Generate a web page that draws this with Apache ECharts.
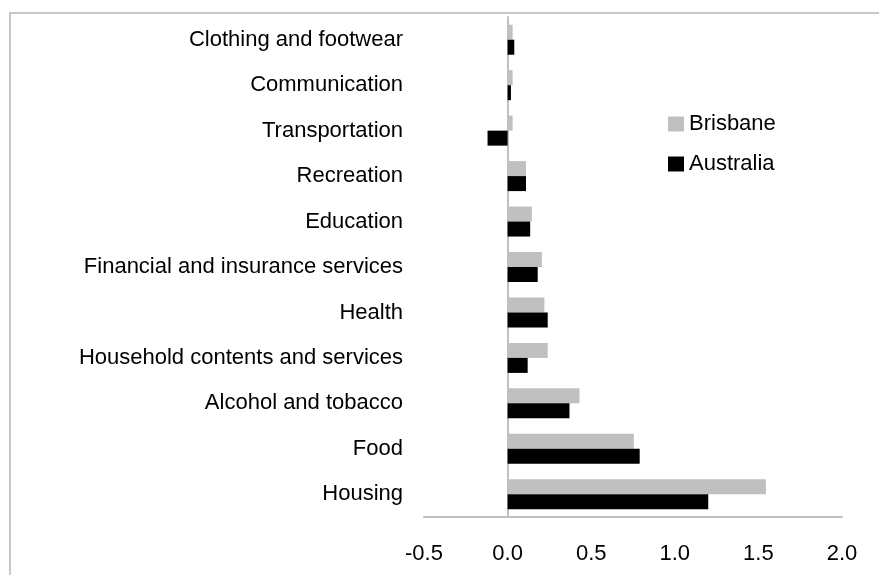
<!DOCTYPE html>
<html>
<head>
<meta charset="utf-8">
<script src="https://cdn.jsdelivr.net/npm/echarts@6/dist/echarts.min.js"></script>
<style>
  html, body { margin: 0; padding: 0; background: #fff; }
  #main { width: 879px; height: 575px; }
</style>
</head>
<body>
<div id="main"></div>
<script>
var categories = ['Clothing and footwear', 'Communication', 'Transportation', 'Recreation', 'Education',
    'Financial and insurance services', 'Health', 'Household contents and services',
    'Alcohol and tobacco', 'Food', 'Housing'];
var brisbane = [0.03, 0.03, 0.03, 0.11, 0.145, 0.205, 0.22, 0.24, 0.43, 0.755, 1.545];
var australia = [0.04, 0.02, -0.12, 0.11, 0.135, 0.18, 0.24, 0.12, 0.37, 0.79, 1.2];
var xTicks = [-0.5, 0.0, 0.5, 1.0, 1.5, 2.0];

var myChart = echarts.init(document.getElementById('main'));
var font = 'Liberation Sans, Arial, sans-serif';

var option = {
    animation: false,
    textStyle: { fontFamily: font },
    graphic: [{
        // outer chart border (cropped on the right and bottom)
        type: 'rect',
        shape: { x: 10, y: 13, width: 900, height: 600 },
        style: { fill: 'none', stroke: '#c8c8c8', lineWidth: 2 }
    }],
    legend: {
        orient: 'vertical',
        left: 663,
        top: 108,
        icon: 'rect',
        itemWidth: 16,
        itemHeight: 15,
        itemGap: 18,
        data: ['Brisbane', 'Australia'],
        textStyle: { fontSize: 22, color: '#000', fontFamily: font, lineHeight: 22 }
    },
    grid: {
        left: 424,
        right: 37,
        top: 17,
        bottom: 58,
        containLabel: false
    },
    xAxis: {
        type: 'value',
        min: xTicks[0],
        max: xTicks[xTicks.length - 1],
        interval: 0.5,
        axisLine: { show: true, lineStyle: { color: '#c0c0c0', width: 2 } },
        axisTick: { show: false },
        splitLine: { show: false },
        axisLabel: {
            fontSize: 22,
            color: '#000',
            margin: 26,
            formatter: function (v) { return v.toFixed(1); }
        }
    },
    yAxis: {
        type: 'category',
        inverse: true,
        data: categories,
        axisLine: { show: true, onZero: true, lineStyle: { color: '#c0c0c0', width: 2 } },
        axisTick: { show: false },
        axisLabel: {
            fontSize: 22,
            color: '#000',
            margin: 21
        }
    },
    series: [
        {
            name: 'Brisbane',
            type: 'bar',
            data: brisbane,
            barWidth: 15,
            barGap: '0%',
            itemStyle: { color: '#c0c0c0' }
        },
        {
            name: 'Australia',
            type: 'bar',
            data: australia,
            barWidth: 15,
            barGap: '0%',
            itemStyle: { color: '#000000' }
        }
    ]
};
myChart.setOption(option);
</script>
</body>
</html>
